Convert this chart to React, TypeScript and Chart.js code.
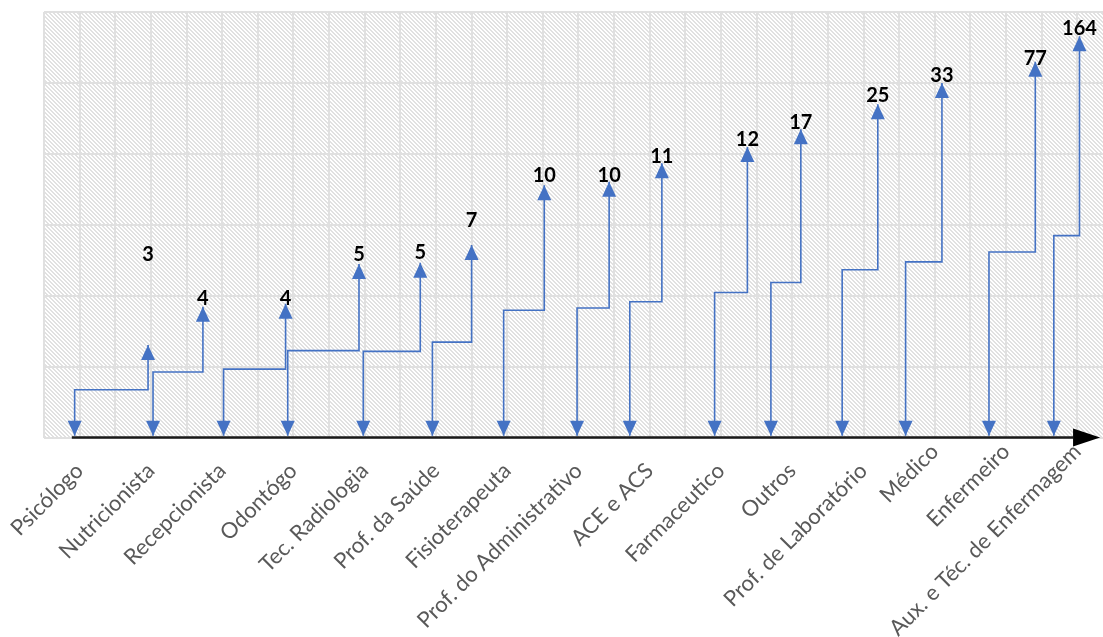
import { useEffect, useRef } from 'react';
import { Chart, registerables } from 'chart.js';

Chart.register(...registerables);

// ---- data ----
const categories = [
  'Psicólogo', 'Nutricionista', 'Recepcionista', 'Odontógo', 'Tec. Radiologia',
  'Prof. da Saúde', 'Fisioterapeuta', 'Prof. do Administrativo', 'ACE e ACS',
  'Farmaceutico', 'Outros', 'Prof. de Laboratório', 'Médico', 'Enfermeiro',
  'Aux. e Téc. de Enfermagem',
];
const values = [3, 4, 4, 5, 5, 7, 10, 10, 11, 12, 17, 25, 33, 77, 164];
// x (category units) of the descending arrow and of the rising arrow
const startX = [-0.07, 1.03, 2.02, 2.92, 3.98, 4.95, 5.95, 6.98, 7.72, 8.91, 9.7, 10.7, 11.59, 12.76, 13.67];
const endX = [0.96, 1.73, 2.89, 3.92, 4.78, 5.5, 6.52, 7.43, 8.17, 9.37, 10.12, 11.2, 12.1, 13.41, 14.03];
// levels (value axis 0..6)
const stepLevel = [0.68, 0.93, 0.97, 1.23, 1.22, 1.35, 1.8, 1.83, 1.92, 2.05, 2.19, 2.37, 2.48, 2.62, 2.85];
const topLevel = [1.31, 1.85, 1.89, 2.45, 2.47, 2.72, 3.56, 3.61, 3.87, 4.1, 4.35, 4.7, 5.0, 5.3, 5.66];
const labelLevel = [2.59, 1.96, 1.96, 2.59, 2.61, 3.06, 3.7, 3.7, 3.96, 4.2, 4.45, 4.83, 5.11, 5.35, 5.76];
const baseLevel = 0.03;

const BLUE = '#4472C4';

function makePattern(): CanvasPattern | string {
  const c = document.createElement('canvas');
  c.width = 4;
  c.height = 4;
  const g = c.getContext('2d');
  if (!g) return '#f0f0f0';
  g.fillStyle = '#ffffff';
  g.fillRect(0, 0, 4, 4);
  g.fillStyle = '#e1e1e1';
  for (let y = 0; y < 4; y++) {
    g.fillRect(y % 4, y, 1, 1);
    g.fillRect((y + 1) % 4, y, 1, 1);
  }
  const p = g.createPattern(c, 'repeat');
  return p || '#f0f0f0';
}

const hatchPlugin = {
  id: 'hatch',
  beforeDraw(chart: any) {
    const { ctx, chartArea } = chart;
    ctx.save();
    ctx.fillStyle = makePattern();
    ctx.fillRect(chartArea.left, chartArea.top, chartArea.right - chartArea.left, chartArea.bottom - chartArea.top);
    ctx.restore();
  },
};

const axisArrowPlugin = {
  id: 'axisArrow',
  beforeDatasetsDraw(chart: any) {
    const { ctx } = chart;
    const xs = chart.scales.x;
    const ys = chart.scales.y;
    const y0 = ys.getPixelForValue(0) - 0.5;
    const x0 = xs.getPixelForValue(-0.11);
    const xb = xs.getPixelForValue(13.94);
    const xt = xs.getPixelForValue(14.32);
    ctx.save();
    ctx.strokeStyle = '#1a1a1a';
    ctx.lineWidth = 2.5;
    ctx.beginPath();
    ctx.moveTo(x0, y0);
    ctx.lineTo(xb, y0);
    ctx.stroke();
    ctx.fillStyle = '#000000';
    ctx.beginPath();
    ctx.moveTo(xb, y0 - 9);
    ctx.lineTo(xt, y0);
    ctx.lineTo(xb, y0 + 9);
    ctx.closePath();
    ctx.fill();
    ctx.restore();
  },
};

const arrowLabelPlugin = {
  id: 'arrowLabels',
  afterDatasetsDraw(chart: any) {
    const { ctx } = chart;
    const xs = chart.scales.x;
    const ys = chart.scales.y;
    ctx.save();
    ctx.fillStyle = BLUE;
    chart.data.datasets.forEach((_d: any, i: number) => {
      const pts = chart.getDatasetMeta(i).data;
      if (!pts.length) return;
      const a = pts[0];
      const b = pts[pts.length - 1];
      ctx.beginPath();
      ctx.moveTo(a.x, a.y);
      ctx.lineTo(a.x - 7, a.y - 15);
      ctx.lineTo(a.x + 7, a.y - 15);
      ctx.closePath();
      ctx.fill();
      ctx.beginPath();
      ctx.moveTo(b.x, b.y);
      ctx.lineTo(b.x - 7, b.y + 15);
      ctx.lineTo(b.x + 7, b.y + 15);
      ctx.closePath();
      ctx.fill();
    });
    ctx.fillStyle = '#000000';
    ctx.font = 'bold 20px Lato';
    ctx.textAlign = 'center';
    ctx.textBaseline = 'middle';
    values.forEach((v, i) => {
      ctx.fillText(String(v), xs.getPixelForValue(endX[i]), ys.getPixelForValue(labelLevel[i]));
    });
    ctx.restore();
  },
};

export default function App() {
  const ref = useRef<HTMLCanvasElement | null>(null);

  useEffect(() => {
    if (!ref.current) return;
    const datasets = categories.map((c, i) => ({
      label: c,
      data: [
        { x: startX[i], y: baseLevel },
        { x: startX[i], y: stepLevel[i] },
        { x: endX[i], y: stepLevel[i] },
        { x: endX[i], y: topLevel[i] },
      ],
      showLine: true,
      borderColor: BLUE,
      borderWidth: 1.6,
      pointRadius: 0,
      tension: 0,
      fill: false,
    }));

    const chart = new Chart(ref.current, {
      type: 'scatter',
      data: { datasets },
      plugins: [hatchPlugin, axisArrowPlugin, arrowLabelPlugin],
      options: {
        animation: false,
        responsive: true,
        maintainAspectRatio: false,
        events: [],
        layout: { padding: { left: 44, top: 12, right: 0, bottom: 0 } },
        plugins: { legend: { display: false }, tooltip: { enabled: false } },
        scales: {
          x: {
            type: 'linear',
            min: -0.5,
            max: 14.36,
            afterBuildTicks: (s: any) => {
              const t: { value: number }[] = [];
              for (let k = -1; k <= categories.length * 2 - 2; k++) t.push({ value: k / 2 });
              s.ticks = t;
            },
            afterFit: (s: any) => {
              s.height = 199;
              s.paddingLeft = 0;
              s.paddingRight = 0;
            },
            ticks: {
              autoSkip: false,
              minRotation: 45,
              maxRotation: 45,
              padding: 10,
              color: '#595959',
              font: (ctx: any) => ({
                family: 'Lato',
                size: 22,
                lineHeight: ctx.tick && ctx.tick.value >= 12 ? '0px' : '54px',
              }),
              callback: (v: any) => (Number.isInteger(v) && categories[v] !== undefined ? categories[v] : ''),
            },
            grid: {
              color: '#e0e0e0',
              lineWidth: 2,
              drawTicks: false,
            },
            border: { display: false },
          },
          y: {
            min: 0,
            max: 6,
            ticks: { display: false, stepSize: 1 },
            grid: { color: '#e0e0e0', lineWidth: 2, drawTicks: false },
            border: { display: false },
          },
        },
      } as any,
    });
    return () => chart.destroy();
  }, []);

  return (
    <div style={{ position: 'absolute', left: 0, top: 0, width: 1103, height: 637 }}>
      <canvas ref={ref} />
    </div>
  );
}
